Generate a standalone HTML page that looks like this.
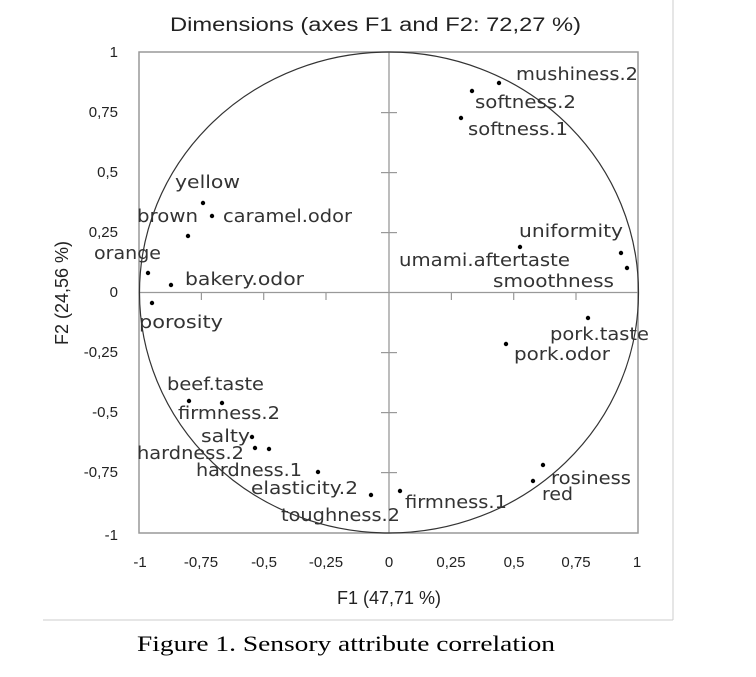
<!DOCTYPE html>
<html><head><meta charset="utf-8"><style>
html,body{margin:0;padding:0;background:#fff;}
svg{display:block;}
text{font-family:"Liberation Sans",sans-serif;fill:#222;}
.l text{font-family:"DejaVu Sans",sans-serif;font-size:18px;fill:#333;}
.t{font-size:15px;}
</style></head><body>
<svg width="756" height="677" viewBox="0 0 756 677" xmlns="http://www.w3.org/2000/svg">
<line x1="43" y1="620" x2="673" y2="620" stroke="#ccc" stroke-width="1"/>
<line x1="673" y1="0" x2="673" y2="620" stroke="#ccc" stroke-width="1"/>
<text x="170" y="31" font-size="19" textLength="411" lengthAdjust="spacingAndGlyphs">Dimensions (axes F1 and F2: 72,27 %)</text>
<rect x="139" y="52" width="499" height="481" fill="none" stroke="#999" stroke-width="1.5"/>
<line x1="389" y1="52" x2="389" y2="533" stroke="#999" stroke-width="1.3"/>
<line x1="139" y1="292.5" x2="638" y2="292.5" stroke="#999" stroke-width="1.3"/>
<g stroke="#999" stroke-width="1.2">
<line x1="381" y1="112.6" x2="397" y2="112.6"/><line x1="381" y1="172.6" x2="397" y2="172.6"/><line x1="381" y1="232.6" x2="397" y2="232.6"/>
<line x1="381" y1="352.6" x2="397" y2="352.6"/><line x1="381" y1="412.6" x2="397" y2="412.6"/><line x1="381" y1="472.6" x2="397" y2="472.6"/>
<line x1="201.4" y1="292" x2="201.4" y2="300"/><line x1="263.7" y1="292" x2="263.7" y2="300"/><line x1="326" y1="292" x2="326" y2="300"/>
<line x1="451.4" y1="292" x2="451.4" y2="300"/><line x1="513.7" y1="292" x2="513.7" y2="300"/><line x1="576" y1="292" x2="576" y2="300"/>
</g>
<ellipse cx="389" cy="292.5" rx="249.5" ry="240.5" fill="none" stroke="#333" stroke-width="1.2"/>
<g class="t" text-anchor="end">
<text x="118" y="57">1</text><text x="118" y="117">0,75</text><text x="118" y="177">0,5</text><text x="118" y="237">0,25</text>
<text x="118" y="297">0</text><text x="118" y="357">-0,25</text><text x="118" y="417">-0,5</text><text x="118" y="477">-0,75</text><text x="118" y="540">-1</text>
</g>
<g class="t" text-anchor="middle">
<text x="140" y="567">-1</text><text x="201" y="567">-0,75</text><text x="264" y="567">-0,5</text><text x="326" y="567">-0,25</text>
<text x="389" y="567">0</text><text x="451" y="567">0,25</text><text x="514" y="567">0,5</text><text x="576" y="567">0,75</text><text x="637" y="567">1</text>
</g>
<text x="389" y="604" font-size="18" text-anchor="middle">F1 (47,71 %)</text>
<text transform="translate(68,293) rotate(-90)" font-size="18" text-anchor="middle">F2 (24,56 %)</text>
<g fill="#000">
<circle cx="499" cy="83" r="2.2"/><circle cx="472" cy="91" r="2.2"/><circle cx="461" cy="118" r="2.2"/>
<circle cx="203" cy="203" r="2.2"/><circle cx="212" cy="216" r="2.2"/><circle cx="188" cy="236" r="2.2"/>
<circle cx="148" cy="273" r="2.2"/><circle cx="171" cy="285" r="2.2"/><circle cx="152" cy="303" r="2.2"/>
<circle cx="621" cy="253" r="2.2"/><circle cx="627" cy="268" r="2.2"/><circle cx="520" cy="247" r="2.2"/>
<circle cx="588" cy="318" r="2.2"/><circle cx="506" cy="344" r="2.2"/>
<circle cx="189" cy="401" r="2.2"/><circle cx="222" cy="403" r="2.2"/><circle cx="252" cy="437" r="2.2"/>
<circle cx="255" cy="448" r="2.2"/><circle cx="269" cy="449" r="2.2"/><circle cx="318" cy="472" r="2.2"/>
<circle cx="371" cy="495" r="2.2"/><circle cx="400" cy="491" r="2.2"/><circle cx="543" cy="465" r="2.2"/><circle cx="533" cy="481" r="2.2"/>
</g>
<g class="l">
<text x="516" y="80" textLength="122" lengthAdjust="spacingAndGlyphs">mushiness.2</text>
<text x="475" y="108" textLength="101" lengthAdjust="spacingAndGlyphs">softness.2</text>
<text x="468" y="135" textLength="100" lengthAdjust="spacingAndGlyphs">softness.1</text>
<text x="175" y="188" textLength="65" lengthAdjust="spacingAndGlyphs">yellow</text>
<text x="137" y="222" textLength="61" lengthAdjust="spacingAndGlyphs">brown</text>
<text x="223" y="222" textLength="129" lengthAdjust="spacingAndGlyphs">caramel.odor</text>
<text x="94" y="259" textLength="67" lengthAdjust="spacingAndGlyphs">orange</text>
<text x="185" y="285" textLength="119" lengthAdjust="spacingAndGlyphs">bakery.odor</text>
<text x="139" y="328" textLength="84" lengthAdjust="spacingAndGlyphs">porosity</text>
<text x="519" y="237" textLength="104" lengthAdjust="spacingAndGlyphs">uniformity</text>
<text x="399" y="266" textLength="171" lengthAdjust="spacingAndGlyphs">umami.aftertaste</text>
<text x="493" y="287" textLength="121" lengthAdjust="spacingAndGlyphs">smoothness</text>
<text x="550" y="340" textLength="99" lengthAdjust="spacingAndGlyphs">pork.taste</text>
<text x="514" y="360" textLength="96" lengthAdjust="spacingAndGlyphs">pork.odor</text>
<text x="167" y="390" textLength="97" lengthAdjust="spacingAndGlyphs">beef.taste</text>
<text x="178" y="419" textLength="102" lengthAdjust="spacingAndGlyphs">firmness.2</text>
<text x="201" y="442" textLength="49" lengthAdjust="spacingAndGlyphs">salty</text>
<text x="137" y="459" textLength="107" lengthAdjust="spacingAndGlyphs">hardness.2</text>
<text x="196" y="476" textLength="106" lengthAdjust="spacingAndGlyphs">hardness.1</text>
<text x="251" y="494" textLength="107" lengthAdjust="spacingAndGlyphs">elasticity.2</text>
<text x="281" y="521" textLength="119" lengthAdjust="spacingAndGlyphs">toughness.2</text>
<text x="405" y="508" textLength="102" lengthAdjust="spacingAndGlyphs">firmness.1</text>
<text x="551" y="484" textLength="80" lengthAdjust="spacingAndGlyphs">rosiness</text>
<text x="542" y="500" textLength="31" lengthAdjust="spacingAndGlyphs">red</text>
</g>
<text x="137" y="651" font-size="22" textLength="418" lengthAdjust="spacingAndGlyphs" style="font-family:'Liberation Serif',serif;fill:#000">Figure 1. Sensory attribute correlation</text>
</svg>
</body></html>
